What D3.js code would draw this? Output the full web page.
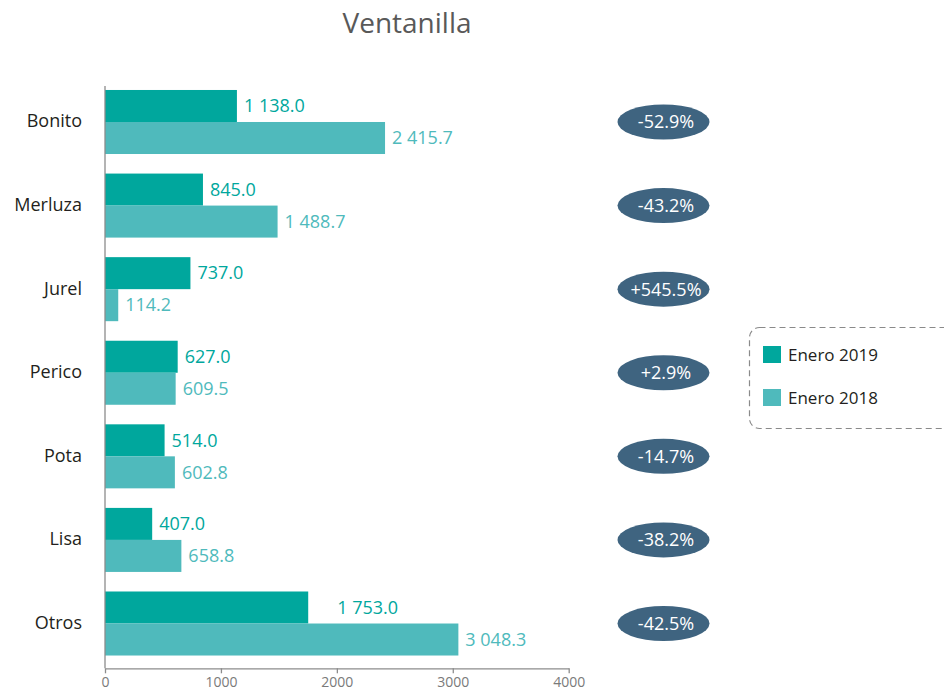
<!DOCTYPE html>
<html lang="es">
<head>
    <meta charset="UTF-8">
    <title>Ventanilla</title>
    <script src="https://cdn.jsdelivr.net/npm/d3@7/dist/d3.min.js"></script>
    <style>
        body { margin: 0; background: #fff; }
        text { font-family: "Open Sans", sans-serif; }
    </style>
</head>
<body>
<div style="width: 944px;height: 695px" id="figure"></div>
<script>

    // data
    let species = ["Bonito", "Merluza", "Jurel", "Perico", "Pota", "Lisa", "Otros"];
    let enero2019 = [1138.0, 845.0, 737.0, 627.0, 514.0, 407.0, 1753.0];
    let enero2018 = [2415.7, 1488.7, 114.2, 609.5, 602.8, 658.8, 3048.3];
    let changes = ["-52.9%", "-43.2%", "+545.5%", "+2.9%", "-14.7%", "-38.2%", "-42.5%"];
    let xTicks = [0, 1000, 2000, 3000, 4000];
    let seriesNames = ["Enero 2019", "Enero 2018"];

    let c2019 = "#00a79d";
    let c2018 = "#4fbabc";
    let ovalColor = "#3f6480";

    let figure = document.getElementById("figure");
    let w = figure.clientWidth;
    let h = figure.clientHeight;

    let svg = d3.select(figure).append("svg")
        .attr("width", w)
        .attr("height", h);

    let xScale = d3.scaleLinear()
        .domain([0, 4000])
        .range([105, 568.7]);

    let yScale = d3.scaleBand()
        .domain(species)
        .range([80.2, 665.3])
        .paddingInner(0.234)
        .paddingOuter(0.117);

    let subScale = d3.scaleBand()
        .domain(seriesNames)
        .range([0, yScale.bandwidth()]);

    let rows = species.map((s, i) => ({name: s, v19: enero2019[i], v18: enero2018[i], change: changes[i]}));

    let fmt = d3.formatLocale({decimal: ".", thousands: " ", grouping: [3], currency: ["", ""]}).format(",.1f");

    // title
    svg.append("text")
        .attr("x", 407)
        .attr("y", 33)
        .attr("text-anchor", "middle")
        .style("font-size", "28px")
        .style("fill", "#595959")
        .text("Ventanilla");

    // x axis
    let xAxis = svg.append("g")
        .attr("transform", "translate(0," + 668.3 + ")")
        .call(d3.axisBottom(xScale).tickValues(xTicks).tickSize(5).tickSizeOuter(0).tickFormat(d3.format("d")));
    xAxis.select(".domain").attr("stroke", "#8c8c8c").attr("stroke-width", 1.3);
    xAxis.selectAll(".tick line").attr("stroke", "#8c8c8c").attr("stroke-width", 1.3);
    xAxis.selectAll(".tick text")
        .attr("y", 9)
        .style("font-size", "14px")
        .style("font-family", "'Open Sans', sans-serif")
        .style("fill", "#7a7a7a");

    let plot = svg.append("g").attr("id", "plot");

    let groups = plot.selectAll("g.row")
        .data(rows)
        .join("g")
        .attr("class", "row")
        .attr("transform", d => "translate(0," + yScale(d.name) + ")");

    groups.append("rect")
        .attr("x", xScale(0))
        .attr("y", subScale("Enero 2019"))
        .attr("width", d => xScale(d.v19) - xScale(0))
        .attr("height", subScale.bandwidth())
        .style("fill", c2019);

    groups.append("rect")
        .attr("x", xScale(0))
        .attr("y", subScale("Enero 2018"))
        .attr("width", d => xScale(d.v18) - xScale(0))
        .attr("height", subScale.bandwidth())
        .style("fill", c2018);

    // value labels (the "Otros" 2019 label sits further right in the original)
    let nudge = {Otros: 22};
    groups.append("text")
        .attr("x", d => xScale(d.v19) + 7 + (nudge[d.name] || 0))
        .attr("y", subScale("Enero 2019") + subScale.bandwidth() / 2)
        .attr("dy", "0.35em")
        .style("font-size", "18px")
        .style("fill", c2019)
        .text(d => fmt(d.v19));

    groups.append("text")
        .attr("x", d => xScale(d.v18) + 7)
        .attr("y", subScale("Enero 2018") + subScale.bandwidth() / 2)
        .attr("dy", "0.35em")
        .style("font-size", "18px")
        .style("fill", c2018)
        .text(d => fmt(d.v18));

    // category labels
    groups.append("text")
        .attr("x", 82)
        .attr("y", yScale.bandwidth() / 2)
        .attr("dy", "0.3em")
        .attr("text-anchor", "end")
        .style("font-size", "18px")
        .style("fill", "#231f20")
        .text(d => d.name);

    // change ovals
    groups.append("ellipse")
        .attr("cx", 663.5)
        .attr("cy", yScale.bandwidth() / 2)
        .attr("rx", 46)
        .attr("ry", 17.5)
        .style("fill", ovalColor);

    groups.append("text")
        .attr("x", 666)
        .attr("y", yScale.bandwidth() / 2)
        .attr("dy", "0.36em")
        .attr("text-anchor", "middle")
        .style("font-size", "18px")
        .style("fill", "#ffffff")
        .text(d => d.change);

    // vertical axis line
    plot.append("line")
        .attr("x1", xScale(0))
        .attr("x2", xScale(0))
        .attr("y1", 86)
        .attr("y2", 668.3)
        .style("stroke", "#8c8c8c")
        .style("stroke-width", 1.3);

    // legend
    let legend = svg.append("g").attr("id", "legend");
    legend.append("rect")
        .attr("x", 749.5)
        .attr("y", 327.5)
        .attr("width", 220)
        .attr("height", 101)
        .attr("rx", 10)
        .style("fill", "none")
        .style("stroke", "#8a8a8a")
        .style("stroke-width", 1.2)
        .style("stroke-dasharray", "6,4");

    let legendColors = [c2019, c2018];
    let items = legend.selectAll("g.item")
        .data(seriesNames)
        .join("g")
        .attr("class", "item")
        .attr("transform", (d, i) => "translate(763," + (346 + i * 43) + ")");
    items.append("rect")
        .attr("width", 18)
        .attr("height", 17)
        .style("fill", (d, i) => legendColors[i]);
    items.append("text")
        .attr("x", 25)
        .attr("y", 15)
        .style("font-size", "17px")
        .style("fill", "#231f20")
        .text(d => d);

</script>
</body>
</html>
